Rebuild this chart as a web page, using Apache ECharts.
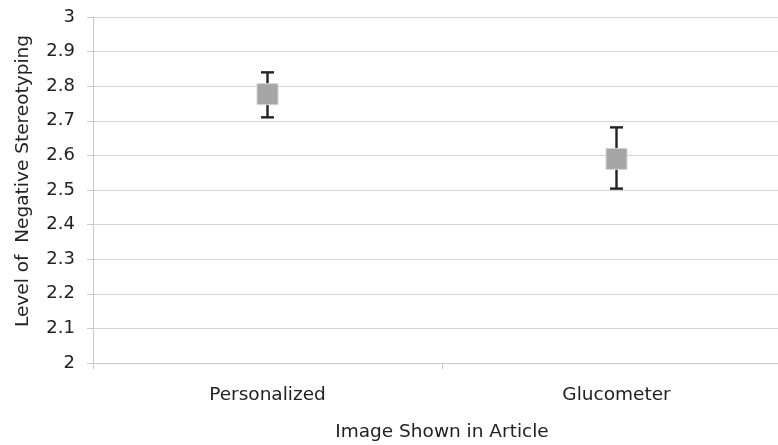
<!DOCTYPE html>
<html><head><meta charset="utf-8">
<script src="https://cdn.jsdelivr.net/npm/echarts@6/dist/echarts.min.js"></script>
<style>html,body{margin:0;padding:0;background:#fff}#c{width:778px;height:445px}</style>
</head><body><div id="c"></div>
<script>
var categories = ['Personalized', 'Glucometer'];
var means = [2.777, 2.590];
var lower = [2.710, 2.504];
var upper = [2.840, 2.681];
var yTicks = [2, 2.1, 2.2, 2.3, 2.4, 2.5, 2.6, 2.7, 2.8, 2.9, 3];

var chart = echarts.init(document.getElementById('c'));
var font = 'DejaVu Sans';
chart.setOption({
  animation: false,
  grid: { left: 93, top: 17, width: 698, bottom: 82, outerBoundsMode: 'none', containLabel: false },
  xAxis: {
    type: 'category', data: categories, boundaryGap: true,
    name: 'Image Shown in Article', nameLocation: 'middle', nameGap: 60,
    nameTextStyle: { fontFamily: font, fontSize: 18.5, color: '#222' },
    axisLine: { lineStyle: { color: '#c8c8c8', width: 1 } },
    axisTick: { show: true, length: 6, lineStyle: { color: '#c8c8c8' } },
    axisLabel: { fontFamily: font, fontSize: 18.5, color: '#222', margin: 23 },
    splitLine: { show: false }
  },
  yAxis: {
    type: 'value', min: 2, max: 3, interval: 0.1,
    name: 'Level of  Negative Stereotyping', nameLocation: 'middle', nameGap: 60,
    nameTextStyle: { fontFamily: font, fontSize: 18.5, color: '#222', padding: [0, 0, 0, 18] },
    axisLine: { show: true, lineStyle: { color: '#c8c8c8' } },
    axisTick: { show: true, length: 6, lineStyle: { color: '#c8c8c8' } },
    axisLabel: { fontFamily: font, fontSize: 18, color: '#222', margin: 18,
      formatter: function (v) { return String(Math.round(v * 10) / 10); } },
    splitLine: { show: true, lineStyle: { color: '#d4d4d4', width: 1 } }
  },
  series: [
    {
      type: 'custom',
      data: categories.map(function (c, i) { return [i, lower[i], upper[i]]; }),
      renderItem: function (params, api) {
        var lo = api.coord([api.value(0), api.value(1)]);
        var hi = api.coord([api.value(0), api.value(2)]);
        var hw = 6.5;
        var st = { stroke: '#222', lineWidth: 2.4 };
        return { type: 'group', children: [
          { type: 'line', shape: { x1: hi[0], y1: hi[1], x2: lo[0], y2: lo[1] }, style: st },
          { type: 'line', shape: { x1: hi[0] - hw, y1: hi[1], x2: hi[0] + hw, y2: hi[1] }, style: st },
          { type: 'line', shape: { x1: lo[0] - hw, y1: lo[1], x2: lo[0] + hw, y2: lo[1] }, style: st }
        ]};
      },
      z: 2
    },
    {
      type: 'scatter', symbol: 'rect', symbolSize: 21,
      data: means,
      itemStyle: { color: '#a6a6a6', borderColor: '#d4d4d4', borderWidth: 1, opacity: 1 },
      z: 3
    }
  ]
});
</script></body></html>
